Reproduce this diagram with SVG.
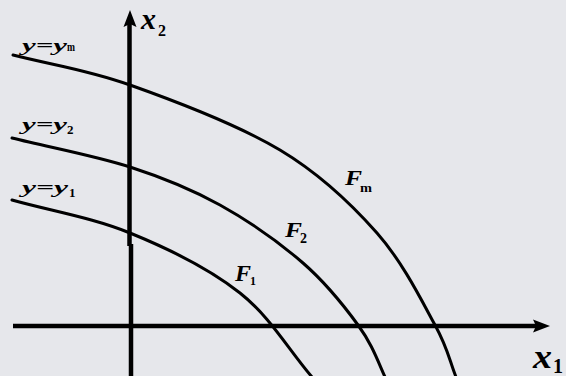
<svg xmlns="http://www.w3.org/2000/svg" width="566" height="376" viewBox="0 0 566 376">
<style>
.bg{fill:#e6e7eb}
.axis{stroke:#000;stroke-width:4.5;fill:none}
.curve{stroke:#000;stroke-width:3;fill:none;stroke-linecap:round}
.head{fill:#000}
.t{font-family:"Liberation Serif","Times New Roman",serif;font-weight:bold;font-style:italic;fill:#000}
.s{font-family:"Liberation Serif","Times New Roman",serif;font-weight:bold;fill:#000}
</style>
<rect class="bg" x="0" y="0" width="566" height="376"/>
<g id="axes">
<line class="axis" x1="129.5" y1="22" x2="129.5" y2="246"/>
<line class="axis" x1="131" y1="244" x2="131" y2="376"/>
<line class="axis" x1="13" y1="326" x2="540" y2="326"/>
<polygon class="head" points="130,10 136.5,27 130,24 123.5,27"/>
<polygon class="head" points="550,326 533,319.5 536,326 533,332.5"/>
</g>
<g id="connectors">
<path id="curve-m" class="curve" d="M13,55 C52,65 85.5,69.2 130,85 C174.5,100.8 238.8,125.3 280,150 C321.2,174.7 351.2,203.8 377,233 C402.8,262.2 422,301.2 435,325 C448,348.8 449,359 456,377"/>
<path id="curve-2" class="curve" d="M12,138 C51.3,147.7 95.3,155.8 130,167 C164.7,178.2 191.2,189 220,205 C248.8,221 280,243 303,263 C326,283 344.3,306.2 358,325 C371.7,343.8 377,359 385,377"/>
<path id="curve-1" class="curve" d="M12,200 C51.3,211 92,217.5 130,233 C168,248.5 209.7,269 240,293 C270.3,317 288,349 312,377"/>
</g>
<g id="label-ym">
<text class="t" x="22" y="51" font-size="17" textLength="45" lengthAdjust="spacingAndGlyphs">y=y</text>
<text class="s" x="67" y="51" font-size="12" textLength="8" lengthAdjust="spacingAndGlyphs">m</text>
</g>
<g id="label-y2">
<text class="t" x="22" y="130" font-size="17" textLength="45" lengthAdjust="spacingAndGlyphs">y=y</text>
<text class="s" x="67" y="134" font-size="13">2</text>
</g>
<g id="label-y1">
<text class="t" x="22" y="193" font-size="17" textLength="46" lengthAdjust="spacingAndGlyphs">y=y</text>
<text class="s" x="69" y="197" font-size="13">1</text>
</g>
<g id="label-x2">
<text class="t" x="141" y="29" font-size="30" textLength="15" lengthAdjust="spacingAndGlyphs">x</text>
<text class="s" x="158" y="36" font-size="16">2</text>
</g>
<g id="label-x1">
<text class="t" x="533" y="368" font-size="33" textLength="19" lengthAdjust="spacingAndGlyphs">x</text>
<text class="s" x="553" y="373" font-size="20">1</text>
</g>
<g id="label-Fm">
<text class="t" x="345" y="185" font-size="20" textLength="17" lengthAdjust="spacingAndGlyphs">F</text>
<text class="s" x="360" y="192" font-size="13" textLength="12" lengthAdjust="spacingAndGlyphs">m</text>
</g>
<g id="label-F2">
<text class="t" x="285" y="237" font-size="21" textLength="17" lengthAdjust="spacingAndGlyphs">F</text>
<text class="s" x="300" y="243" font-size="14">2</text>
</g>
<g id="label-F1">
<text class="t" x="235" y="281" font-size="23" textLength="16" lengthAdjust="spacingAndGlyphs">F</text>
<text class="s" x="250" y="285" font-size="12">1</text>
</g>
</svg>
